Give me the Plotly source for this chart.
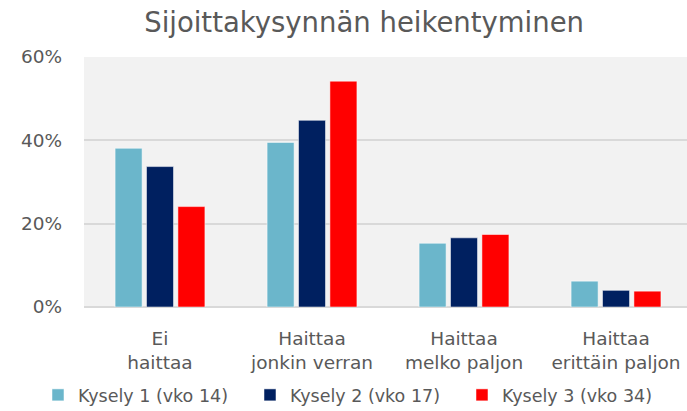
import plotly.graph_objects as go

categories = ["Ei<br>haittaa", "Haittaa<br>jonkin verran", "Haittaa<br>melko paljon", "Haittaa<br>erittäin paljon"]
series_names = ["Kysely 1 (vko 14)", "Kysely 2 (vko 17)", "Kysely 3 (vko 34)"]
kysely1 = [0.381, 0.395, 0.153, 0.062]
kysely2 = [0.337, 0.448, 0.166, 0.040]
kysely3 = [0.241, 0.542, 0.174, 0.038]
colors = ["#6bb6cb", "#002060", "#ff0000"]
y_ticks = [0, 0.2, 0.4, 0.6]
y_tick_labels = ["0%", "20%", "40%", "60%"]

FONT = "'DejaVu Sans', sans-serif"
GREY = "#595959"

fig = go.Figure()
for name, vals, col in zip(series_names, [kysely1, kysely2, kysely3], colors):
    fig.add_trace(go.Bar(
        x=categories, y=vals, name=name,
        marker=dict(color=col, line=dict(color="rgba(255,255,255,0.5)", width=1)),
    ))

fig.update_layout(
    width=687, height=411,
    margin=dict(l=84, r=0, t=57, b=104, autoexpand=False),
    paper_bgcolor="white",
    plot_bgcolor="#f2f2f2",
    barmode="group",
    bargap=0.38,
    bargroupgap=0.14,
    title=dict(text="Sijoittakysynnän heikentyminen", x=0.53, xanchor="center",
               y=0.945, yanchor="middle",
               font=dict(family=FONT, size=27.5, color=GREY)),
    font=dict(family=FONT, color=GREY),
    showlegend=True,
    legend=dict(orientation="h", x=-0.0763, xanchor="left", y=-0.352, yanchor="middle",
                font=dict(family=FONT, size=17.5, color=GREY),
                entrywidth=167, entrywidthmode="pixels",
                itemwidth=30, traceorder="normal"),
    xaxis=dict(range=[-0.5, 3.467], showgrid=False, showline=False, ticks="",
               automargin=False, ticklabelstandoff=18,
               tickfont=dict(family=FONT, size=18.5, color=GREY)),
    yaxis=dict(range=[0, 0.6], tickvals=y_ticks, ticktext=y_tick_labels,
               showgrid=True, gridcolor="#d9d9d9", gridwidth=2,
               zeroline=True, zerolinecolor="#d9d9d9", zerolinewidth=2,
               ticks="", ticklabelstandoff=21, automargin=False,
               tickfont=dict(family=FONT, size=18.5, color=GREY)),
)

fig.write_html("out.html", config={"displayModeBar": False},
               post_script="document.body.style.margin='0';")
